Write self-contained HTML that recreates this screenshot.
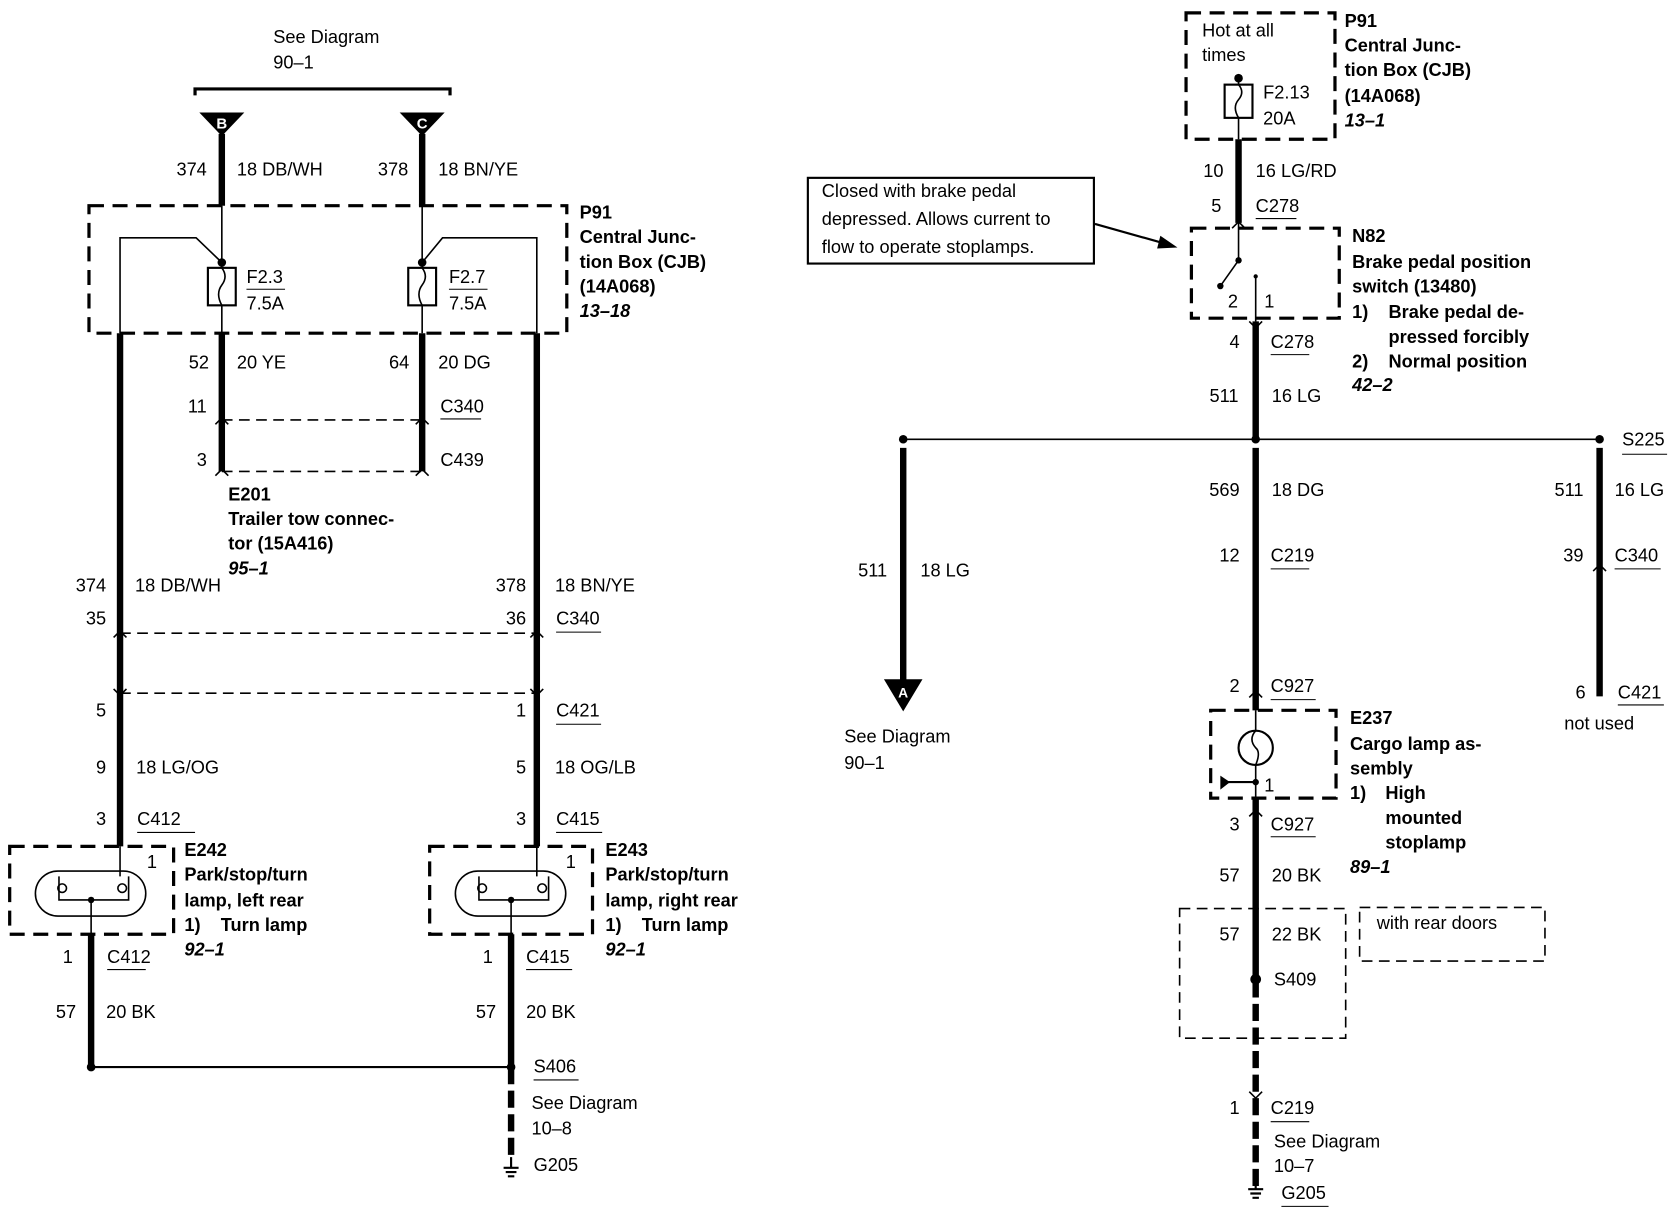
<!DOCTYPE html>
<html><head><meta charset="utf-8"><style>
html,body{margin:0;padding:0;background:#fff;}
svg{display:block;}
text{font-family:"Liberation Sans Narrow","Liberation Sans",sans-serif;font-size:17px;fill:#000;}
.b{font-weight:bold;}
.i{font-weight:bold;font-style:italic;}
.e{text-anchor:end;}
.w{stroke:#000;stroke-width:6;fill:none;}
.t{stroke:#000;stroke-width:1.5;fill:none;}
.d{stroke:#000;stroke-width:3;fill:none;stroke-dasharray:14 8;}
.dt{stroke:#000;stroke-width:1.5;fill:none;stroke-dasharray:10 6;}
.u{stroke:#000;stroke-width:1;}
</style></head><body>
<svg width="1680" height="1216" viewBox="0 0 1568 1135" xmlns="http://www.w3.org/2000/svg">
<rect width="1568" height="1135" fill="#fff"/>
<!-- LEFT -->
<text x="255" y="40">See Diagram</text>
<text x="255" y="64">90–1</text>
<path d="M182 89 V83 H420 V89" stroke="#000" stroke-width="3" fill="none"/>
<polygon points="186,105 228,105 207,127" fill="#000"/>
<text x="207" y="120" text-anchor="middle" class="b" style="fill:#fff;font-size:14px">B</text>
<polygon points="373,105 415,105 394,127" fill="#000"/>
<text x="394" y="120" text-anchor="middle" class="b" style="fill:#fff;font-size:14px">C</text>
<line class="w" x1="207" y1="125" x2="207" y2="192"/>
<line class="w" x1="394" y1="125" x2="394" y2="192"/>
<text class="e" x="193" y="164">374</text><text x="221" y="164">18 DB/WH</text>
<text class="e" x="381" y="164">378</text><text x="409" y="164">18 BN/YE</text>
<rect class="d" x="83" y="192" width="446" height="119"/>
<line class="t" x1="207" y1="192" x2="207" y2="311"/>
<line class="t" x1="394" y1="192" x2="394" y2="311"/>
<rect x="194" y="250" width="26" height="35" fill="#fff" stroke="#000" stroke-width="2"/>
<rect x="381" y="250" width="26" height="35" fill="#fff" stroke="#000" stroke-width="2"/>
<path class="t" d="M207 250 q6 8 0 16 q-6 8 0 19"/>
<path class="t" d="M394 250 q6 8 0 16 q-6 8 0 19"/>
<circle cx="207" cy="245" r="4"/><circle cx="394" cy="245" r="4"/>
<path class="t" d="M207 245 L183 222 H112 V311"/>
<path class="t" d="M394 245 L413 222 H501 V311"/>
<text x="230" y="264">F2.3</text><line class="u" x1="230" y1="270" x2="266" y2="270"/><text x="230" y="289">7.5A</text>
<text x="419" y="264">F2.7</text><line class="u" x1="419" y1="270" x2="455" y2="270"/><text x="419" y="289">7.5A</text>
<text class="b" x="541" y="204">P91</text>
<text class="b" x="541" y="227">Central Junc-</text>
<text class="b" x="541" y="250">tion Box (CJB)</text>
<text class="b" x="541" y="273">(14A068)</text>
<text class="i" x="541" y="296">13–18</text>
<line class="w" x1="112" y1="311" x2="112" y2="790"/>
<line class="w" x1="501" y1="311" x2="501" y2="790"/>
<line class="w" x1="207" y1="311" x2="207" y2="440"/>
<line class="w" x1="394" y1="311" x2="394" y2="440"/>
<text class="e" x="195" y="344">52</text><text x="221" y="344">20 YE</text>
<text class="e" x="382" y="344">64</text><text x="409" y="344">20 DG</text>
<text class="e" x="193" y="385">11</text><text x="411" y="385">C340</text><line class="u" x1="411" y1="391" x2="449" y2="391"/>
<line class="dt" x1="207" y1="392" x2="394" y2="392"/>
<text class="e" x="193" y="435">3</text><text x="411" y="435">C439</text>
<line class="dt" x1="207" y1="440" x2="394" y2="440"/>
<path class="t" d="M201 396 l6 -6 l6 6 M388 396 l6 -6 l6 6 M201 444 l6 -6 l6 6 M388 444 l6 -6 l6 6"/>
<text class="b" x="213" y="467">E201</text>
<text class="b" x="213" y="490">Trailer tow connec-</text>
<text class="b" x="213" y="513">tor (15A416)</text>
<text class="i" x="213" y="536">95–1</text>
<text class="e" x="99" y="552">374</text><text x="126" y="552">18 DB/WH</text>
<text class="e" x="491" y="552">378</text><text x="518" y="552">18 BN/YE</text>
<text class="e" x="99" y="583">35</text>
<text class="e" x="491" y="583">36</text><text x="519" y="583">C340</text><line class="u" x1="519" y1="590" x2="561" y2="590"/>
<line class="dt" x1="112" y1="591" x2="501" y2="591"/>
<line class="dt" x1="112" y1="647" x2="501" y2="647"/>
<path class="t" d="M106 595 l6 -6 l6 6 M495 595 l6 -6 l6 6 M106 643 l6 6 l6 -6 M495 643 l6 6 l6 -6"/>
<text class="e" x="99" y="669">5</text>
<text class="e" x="491" y="669">1</text><text x="519" y="669">C421</text><line class="u" x1="519" y1="676" x2="561" y2="676"/>
<text class="e" x="99" y="722">9</text><text x="127" y="722">18 LG/OG</text>
<text class="e" x="491" y="722">5</text><text x="518" y="722">18 OG/LB</text>
<text class="e" x="99" y="770">3</text><text x="128" y="770">C412</text><line class="u" x1="128" y1="777" x2="182" y2="777"/>
<text class="e" x="491" y="770">3</text><text x="519" y="770">C415</text><line class="u" x1="519" y1="777" x2="562" y2="777"/>
<!-- lamps -->
<rect class="d" x="9" y="790" width="153" height="82"/>
<rect x="33" y="813" width="103" height="42" rx="21" class="t" stroke-width="2"/>
<path class="t" d="M55 818 V840 H120 V818"/><circle cx="58" cy="829" r="4" class="t"/><circle cx="114" cy="829" r="4" class="t"/>
<line class="t" x1="112" y1="790" x2="112" y2="818"/>
<line class="t" x1="85" y1="840" x2="85" y2="872"/><circle cx="85" cy="840" r="3"/>
<text x="137" y="810">1</text>
<rect class="d" x="401" y="790" width="152" height="82"/>
<rect x="425" y="813" width="103" height="42" rx="21" class="t" stroke-width="2"/>
<path class="t" d="M447 818 V840 H512 V818"/><circle cx="450" cy="829" r="4" class="t"/><circle cx="506" cy="829" r="4" class="t"/>
<line class="t" x1="501" y1="790" x2="501" y2="818"/>
<line class="t" x1="477" y1="840" x2="477" y2="872"/><circle cx="477" cy="840" r="3"/>
<text x="528" y="810">1</text>
<text class="b" x="172" y="799">E242</text>
<text class="b" x="172" y="822">Park/stop/turn</text>
<text class="b" x="172" y="846">lamp, left rear</text>
<text class="b" x="172" y="869">1)&#160;&#160;&#160;&#160;Turn lamp</text>
<text class="i" x="172" y="892">92–1</text>
<text class="b" x="565" y="799">E243</text>
<text class="b" x="565" y="822">Park/stop/turn</text>
<text class="b" x="565" y="846">lamp, right rear</text>
<text class="b" x="565" y="869">1)&#160;&#160;&#160;&#160;Turn lamp</text>
<text class="i" x="565" y="892">92–1</text>
<line class="w" x1="85" y1="872" x2="85" y2="996"/>
<line class="w" x1="477" y1="872" x2="477" y2="996"/>
<text class="e" x="68" y="899">1</text><text x="100" y="899">C412</text><line class="u" x1="100" y1="905" x2="136" y2="905"/>
<text class="e" x="460" y="899">1</text><text x="491" y="899">C415</text><line class="u" x1="491" y1="905" x2="534" y2="905"/>
<text class="e" x="71" y="950">57</text><text x="99" y="950">20 BK</text>
<text class="e" x="463" y="950">57</text><text x="491" y="950">20 BK</text>
<line x1="85" y1="996" x2="477" y2="996" stroke="#000" stroke-width="2"/>
<circle cx="85" cy="996" r="4"/><circle cx="477" cy="996" r="4"/>
<line x1="477" y1="996" x2="477" y2="1082" stroke="#000" stroke-width="6" stroke-dasharray="16 6"/>
<path d="M477 1080 V1090 M470 1090 H484 M472 1094 H482 M474 1098 H480" stroke="#000" stroke-width="2"/>
<text x="498" y="1001">S406</text><line class="u" x1="498" y1="1008" x2="540" y2="1008"/>
<text x="496" y="1035">See Diagram</text>
<text x="496" y="1059">10–8</text>
<text x="498" y="1093">G205</text>
<!-- RIGHT -->
<rect class="d" x="1107" y="12" width="139" height="118"/>
<text x="1122" y="34">Hot at all</text>
<text x="1122" y="57">times</text>
<line class="t" x1="1156" y1="73" x2="1156" y2="130"/>
<rect x="1143" y="79" width="26" height="31" fill="#fff" stroke="#000" stroke-width="2"/>
<path class="t" d="M1156 79 q6 7 0 14 q-6 7 0 17"/>
<circle cx="1156" cy="73" r="4"/>
<text x="1179" y="92">F2.13</text><text x="1179" y="116">20A</text>
<text class="b" x="1255" y="25">P91</text>
<text class="b" x="1255" y="48">Central Junc-</text>
<text class="b" x="1255" y="71">tion Box (CJB)</text>
<text class="b" x="1255" y="95">(14A068)</text>
<text class="i" x="1255" y="118">13–1</text>
<line class="w" x1="1156" y1="130" x2="1156" y2="208"/>
<text class="e" x="1142" y="165">10</text><text x="1172" y="165">16 LG/RD</text>
<text class="e" x="1140" y="198">5</text><text x="1172" y="198">C278</text><line class="u" x1="1172" y1="204" x2="1210" y2="204"/>
<rect x="754" y="166" width="267" height="80" fill="none" stroke="#000" stroke-width="2"/>
<text x="767" y="184">Closed with brake pedal</text>
<text x="767" y="210">depressed.  Allows current to</text>
<text x="767" y="236">flow to operate stoplamps.</text>
<line x1="1022" y1="209" x2="1086" y2="227" stroke="#000" stroke-width="2"/>
<polygon points="1099,231 1083,220 1080,232" fill="#000"/>
<rect class="d" x="1112" y="213" width="138" height="84"/>
<line class="t" x1="1156" y1="208" x2="1156" y2="243"/>
<circle cx="1156" cy="243" r="3"/>
<line class="t" x1="1156" y1="243" x2="1139" y2="267"/><circle cx="1139" cy="267" r="3"/>
<line class="t" x1="1172" y1="258" x2="1172" y2="300"/><circle cx="1172" cy="258" r="2"/>
<text x="1146" y="287">2</text><text x="1180" y="287">1</text>
<text class="b" x="1262" y="226">N82</text>
<text class="b" x="1262" y="250">Brake pedal position</text>
<text class="b" x="1262" y="273">switch (13480)</text>
<text class="b" x="1262" y="297">1)</text><text class="b" x="1296" y="297">Brake pedal de-</text>
<text class="b" x="1296" y="320">pressed forcibly</text>
<text class="b" x="1262" y="343">2)</text><text class="b" x="1296" y="343">Normal position</text>
<text class="i" x="1262" y="365">42–2</text>
<line class="w" x1="1172" y1="300" x2="1172" y2="410"/>
<text class="e" x="1157" y="325">4</text><text x="1186" y="325">C278</text><line class="u" x1="1186" y1="331" x2="1222" y2="331"/>
<text class="e" x="1156" y="375">511</text><text x="1187" y="375">16 LG</text>
<line x1="843" y1="410" x2="1493" y2="410" stroke="#000" stroke-width="1.5"/>
<circle cx="843" cy="410" r="4"/><circle cx="1172" cy="410" r="4"/><circle cx="1493" cy="410" r="4"/>
<line class="w" x1="843" y1="418" x2="843" y2="636"/>
<polygon points="825,634 861,634 843,664" fill="#000"/>
<text x="843" y="651" text-anchor="middle" class="b" style="fill:#fff;font-size:13px">A</text>
<text class="e" x="828" y="538">511</text><text x="859" y="538">18 LG</text>
<text x="788" y="693">See Diagram</text><text x="788" y="718">90–1</text>
<line class="w" x1="1172" y1="418" x2="1172" y2="663"/>
<text class="e" x="1157" y="463">569</text><text x="1187" y="463">18 DG</text>
<text class="e" x="1157" y="524">12</text><text x="1186" y="524">C219</text><line class="u" x1="1186" y1="531" x2="1222" y2="531"/>
<text class="e" x="1157" y="646">2</text><text x="1186" y="646">C927</text><line class="u" x1="1186" y1="653" x2="1228" y2="653"/>
<rect class="d" x="1130" y="663" width="117" height="82"/>
<line class="t" x1="1172" y1="663" x2="1172" y2="745"/>
<circle cx="1172" cy="698" r="16" fill="#fff" stroke="#000" stroke-width="2"/>
<path class="t" d="M1172 682 q-7 8 0 16 q5 4 0 16"/>
<circle cx="1172" cy="730" r="3"/>
<line x1="1140" y1="730" x2="1172" y2="730" stroke="#000" stroke-width="2"/>
<polygon points="1139,724 1139,737 1148,730" fill="#000"/>
<text x="1180" y="739">1</text>
<text class="b" x="1260" y="676">E237</text>
<text class="b" x="1260" y="700">Cargo lamp as-</text>
<text class="b" x="1260" y="723">sembly</text>
<text class="b" x="1260" y="746">1)</text><text class="b" x="1293" y="746">High</text>
<text class="b" x="1293" y="769">mounted</text>
<text class="b" x="1293" y="792">stoplamp</text>
<text class="i" x="1260" y="815">89–1</text>
<line class="w" x1="1172" y1="745" x2="1172" y2="915"/>
<line x1="1172" y1="915" x2="1172" y2="1108" stroke="#000" stroke-width="6" stroke-dasharray="16 6"/>
<text class="e" x="1157" y="775">3</text><text x="1186" y="775">C927</text><line class="u" x1="1186" y1="781" x2="1228" y2="781"/>
<text class="e" x="1157" y="823">57</text><text x="1187" y="823">20 BK</text>
<rect class="dt" x="1101" y="848" width="155" height="121"/>
<text class="e" x="1157" y="878">57</text><text x="1187" y="878">22 BK</text>
<circle cx="1172" cy="914" r="5"/><text x="1189" y="920">S409</text>
<rect class="dt" x="1269" y="847" width="173" height="50"/>
<text x="1285" y="867">with rear doors</text>
<path class="t" d="M1166 1019 l6 6 l6 -6 M1166 762 l6 -6 l6 6 M1166 651 l6 -6 l6 6 M1166 300 l6 6 l6 -6 M1150 213 l6 -6 l6 6"/>
<text class="e" x="1157" y="1040">1</text><text x="1186" y="1040">C219</text><line class="u" x1="1186" y1="1047" x2="1222" y2="1047"/>
<text x="1189" y="1071">See Diagram</text><text x="1189" y="1094">10–7</text>
<path d="M1172 1104 V1110 M1165 1110 H1179 M1167 1114 H1177 M1169 1118 H1175" stroke="#000" stroke-width="2"/>
<text x="1196" y="1119">G205</text><line class="u" x1="1196" y1="1126" x2="1240" y2="1126"/>
<line class="w" x1="1493" y1="418" x2="1493" y2="650"/>
<text x="1514" y="416">S225</text><line class="u" x1="1514" y1="424" x2="1556" y2="424"/>
<text class="e" x="1478" y="463">511</text><text x="1507" y="463">16 LG</text>
<text class="e" x="1478" y="524">39</text><text x="1507" y="524">C340</text><line class="u" x1="1507" y1="531" x2="1550" y2="531"/>
<path class="t" d="M1487 533 l6 -6 l6 6"/>
<text class="e" x="1480" y="652">6</text><text x="1510" y="652">C421</text><line class="u" x1="1510" y1="658" x2="1553" y2="658"/>
<text x="1460" y="681">not used</text>
</svg>
</body></html>
